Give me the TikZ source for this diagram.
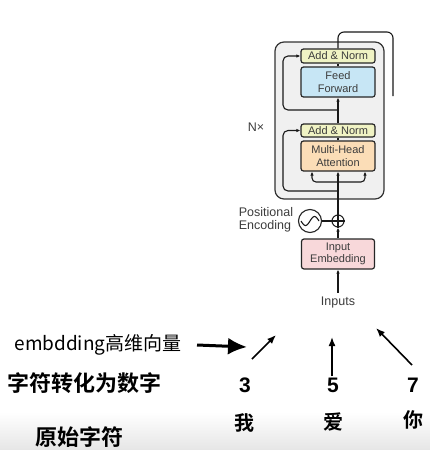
\documentclass[tikz,border=0pt]{standalone}
\usepackage{fontspec}
\setmainfont{Liberation Sans}
\newfontfamily\cjk{Noto Sans CJK SC}
\newfontfamily\cjkb{Noto Sans CJK SC Bold}
\usetikzlibrary{arrows.meta}
\definecolor{normyel}{RGB}{240,243,196}
\definecolor{ffblue}{RGB}{199,230,245}
\definecolor{mhaorg}{RGB}{251,221,183}
\definecolor{embpink}{RGB}{248,216,218}
\definecolor{txtgray}{RGB}{60,60,60}

\begin{document}
\begin{tikzpicture}[x=1pt, y=-1pt,
    blk/.style={draw=black!85, line width=1.2pt, rounded corners=2.5pt,
      minimum width=74pt, inner sep=1pt, align=center, text=txtgray,
      font=\fontsize{11}{12.5}\selectfont},
    ln/.style={line width=1.1pt, black!90},
    arr/.style={ln, -{Latex[length=4pt,width=3.5pt]}},
    big/.style={line width=1.6pt, -{Latex[length=9pt,width=7pt]}},
    lbl/.style={text=txtgray, align=left, font=\fontsize{12.5}{13.5}\selectfont},
    num/.style={font=\fontsize{21}{22}\selectfont\bfseries},
    han/.style={font={\cjkb\fontsize{20}{22}\selectfont}},
    hanl/.style={font={\cjkb\fontsize{22}{24}\selectfont}}]
    \useasboundingbox (0,0) rectangle (430,450);
    \shade[top color=white, bottom color=black!10] (0,412) rectangle (430,450);

    % encoder block
    \node[draw=black!80, fill=black!6, line width=1.2pt, rounded corners=9pt,
      minimum width=109pt, minimum height=157pt] (enc) at (329.5,120.5) {};
    \node[blk, fill=normyel, minimum height=14pt] (an1) at (338,56) {Add \& Norm};
    \node[blk, fill=ffblue, minimum height=30pt] (ff) at (338,82) {Feed\\Forward};
    \node[blk, fill=normyel, minimum height=13pt] (an2) at (338,130.5) {Add \& Norm};
    \node[blk, fill=mhaorg, minimum height=30pt] (mha) at (338,156) {Multi-Head\\Attention};
    \node[blk, fill=embpink, minimum height=30pt, minimum width=73pt] (emb) at (338,254) {Input\\Embedding};
    \node[draw=black!85, line width=1.1pt, circle, minimum size=12pt, inner sep=0pt] (add) at (338,221) {};
    \node[draw=black!85, line width=1.1pt, circle, minimum size=23pt, inner sep=0pt] (pe) at (310,221) {};
    \node[lbl] (pel) at (266,220) {Positional\\Encoding};
    \node[lbl] (nx) at (256,127) {N×};
    \node[lbl] (inp) at (338,302) {Inputs};

    \coordinate (s1) at (338,182);
    \coordinate (r1) at (338,191);
    \coordinate (r2) at (338,110);
    \coordinate (out) at (393,96);

    \draw[ln] (add.north) -- (add.south) (add.west) -- (add.east);
    \draw[ln, shift={(pe.center)}] plot[domain=-9:9, samples=40] (\x, {-4.5*sin(\x*20)});
    \draw[arr] (inp) -- (emb.south);
    \draw[arr] (emb.north) -- (add.south);
    \draw[ln] (pe) -- (add);
    \draw[arr] (add.north) -- (mha.south);
    \draw[arr, rounded corners=4pt] (s1) -| ([xshift=-26pt]mha.south);
    \draw[arr, rounded corners=4pt] (s1) -| ([xshift=27pt]mha.south);
    \draw[arr, rounded corners=5pt] (r1) -- (283,191) |- (an2.west);
    \draw[ln] (mha.north) -- (an2.south);
    \draw[arr] (an2.north) -- (ff.south);
    \draw[arr, rounded corners=5pt] (r2) -- (283,110) |- (an1.west);
    \draw[ln] (ff.north) -- (an1.south);
    \draw[ln, rounded corners=6pt] (an1.north) -- (338,32) -- (393,32) -- (out);

    % tokens
    \node[font={\cjk\fontsize{19}{20}\selectfont}] (emt) at (98,345) {embdding高维向量};
    \node[hanl] (l1) at (85,383) {字符转化为数字};
    \node[hanl] (l2) at (79,437) {原始字符};
    \node[num] (n3) at (245,385) {3};
    \node[num] (n5) at (333,385) {5};
    \node[num] (n7) at (413,385) {7};
    \node[han] (w1) at (244,423) {我};
    \node[han] (w2) at (333,422) {爱};
    \node[han] (w3) at (413,420) {你};

    \coordinate (thk) at (247,347);
    \coordinate (a1s) at (252,359);
    \coordinate (a1e) at (276,335);
    \coordinate (a2s) at (332,376);
    \coordinate (a2e) at (332,337);
    \coordinate (a3s) at (412,365);
    \coordinate (a3e) at (376,328);

    \draw[line width=3pt, -{Latex[length=19pt,width=17pt]}] ([xshift=12pt]emt.east) -- (thk);
    \draw[big] (a1s) -- (a1e);
    \draw[big] (a2s) -- (a2e);
    \draw[big] (a3s) -- (a3e);
\end{tikzpicture}
\end{document}
